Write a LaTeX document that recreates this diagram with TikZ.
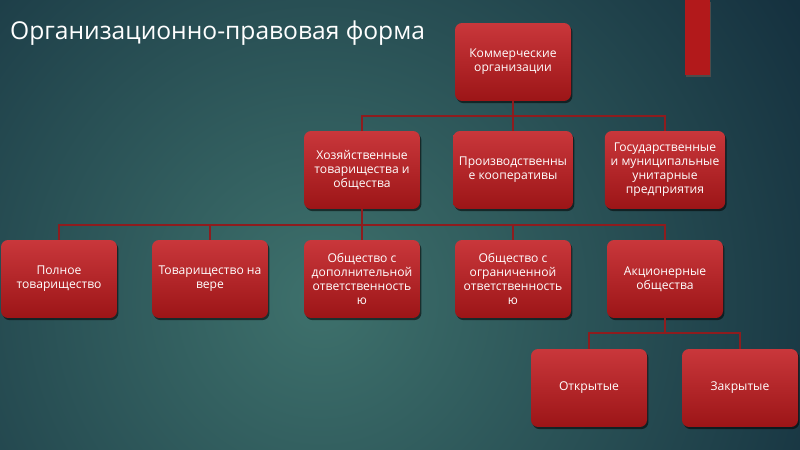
\documentclass[tikz,border=0pt]{standalone}
\usepackage{fontspec}
\setmainfont{Open Sans}
\usetikzlibrary{shadows}
\definecolor{bgin}{HTML}{3E716C}
\definecolor{bgout}{HTML}{15313F}
\definecolor{boxtop}{HTML}{C9373B}
\definecolor{boxbot}{HTML}{9C1517}
\definecolor{linkred}{HTML}{8E1C1E}
\definecolor{barred}{HTML}{B2191B}
\begin{document}
\begin{tikzpicture}[x=0.02cm, y=-0.02cm,
  orgbox/.style={rounded corners=4pt, top color=boxtop, bottom color=boxbot,
    minimum width=2.32cm, minimum height=1.56cm, align=center, text=white,
    font=\fontsize{6.9}{8}\selectfont,
    drop shadow={shadow xshift=0.8pt, shadow yshift=-1.2pt, opacity=0.55, fill=black}},
  link/.style={linkred, line width=0.7pt}]
\useasboundingbox (0,0) rectangle (800,449);
\begin{scope}
\clip (0,0) rectangle (800,449);
\fill[bgout] (0,0) rectangle (800,449);
\shade[inner color=bgin, outer color=bgout] (320,300) circle (560);
\end{scope}
% title and red bar
\node[anchor=west, text=white, font=\fontsize{14}{17}\selectfont] (title) at (4,33) {Организационно-правовая форма};
\fill[black!70] (686,2) rectangle (711,77);
\fill[barred] (685,0) rectangle (710,75);

% boxes
\node[orgbox] (kom) at (513,62) {Коммерческие\\организации};
\node[orgbox] (hoz) at (362,170) {Хозяйственные\\товарищества и\\общества};
\node[orgbox] (proizv) at (513,170) {Производственны\\е кооперативы};
\node[orgbox] (gos) at (665,170) {Государственные\\и муниципальные\\унитарные\\предприятия};
\node[orgbox] (poln) at (59,279) {Полное\\товарищество};
\node[orgbox] (tovv) at (210,279) {Товарищество на\\вере};
\node[orgbox] (odo) at (362,279) {Общество с\\дополнительной\\ответственность\\ю};
\node[orgbox] (ooo) at (513,279) {Общество с\\ограниченной\\ответственность\\ю};
\node[orgbox] (ao) at (665,279) {Акционерные\\общества};
\node[orgbox] (otk) at (589,388) {Открытые};
\node[orgbox] (zak) at (740,388) {Закрытые};

% connectors
\coordinate (b1) at (513,116);
\coordinate (b2) at (362,225);
\coordinate (b3) at (665,333);
\draw[link] (kom.south) -- (b1);
\draw[link] (hoz.north) |- (b1) -| (gos.north);
\draw[link] (b1) -- (proizv.north);
\draw[link] (hoz.south) -- (b2);
\draw[link] (poln.north) |- (b2) -| (ao.north);
\draw[link] (b2) -- (odo.north);
\draw[link] (tovv.north) -- (tovv.north |- b2);
\draw[link] (ooo.north) -- (ooo.north |- b2);
\draw[link] (ao.south) -- (b3);
\draw[link] (otk.north) |- (b3) -| (zak.north);
\end{tikzpicture}
\end{document}
